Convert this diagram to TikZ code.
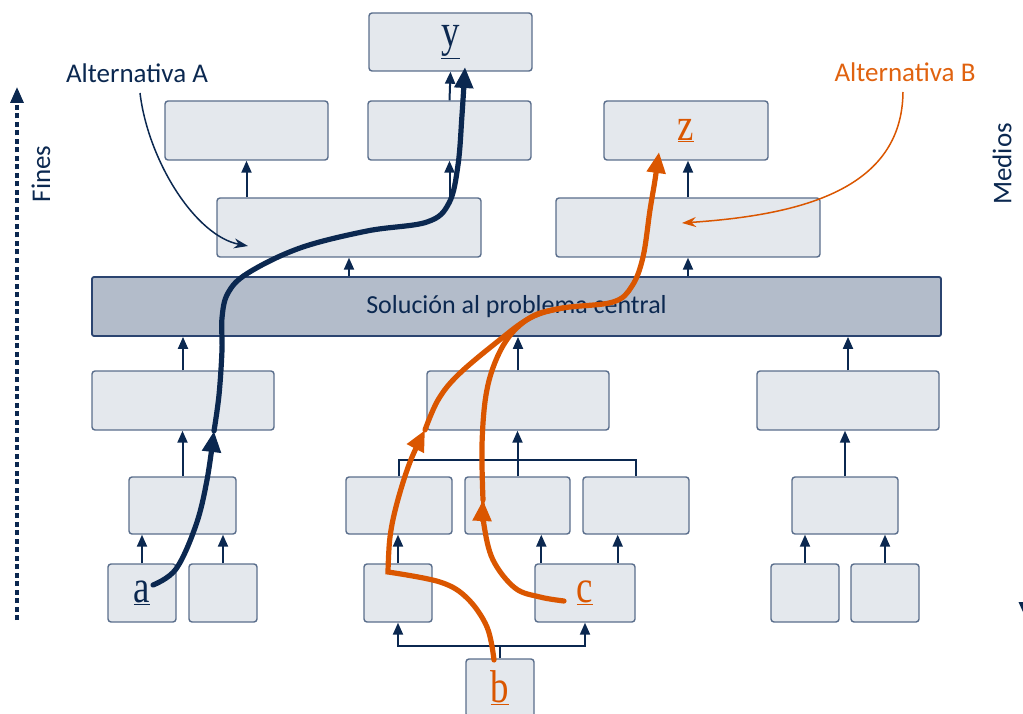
\documentclass[tikz,border=0pt]{standalone}
\usepackage{fontspec}
\setsansfont{Carlito}
\newfontfamily\lettfont{Liberation Serif}
\usetikzlibrary{arrows.meta,calc}
\definecolor{navy}{HTML}{0B2850}
\definecolor{boxfill}{HTML}{E4E8ED}
\definecolor{boxline}{HTML}{5A6E8C}
\definecolor{barfill}{HTML}{B3BCCA}
\definecolor{barline}{HTML}{2B4470}
\definecolor{orng}{HTML}{DA5600}
\definecolor{orngtxt}{HTML}{E0620F}
\newcommand\mkbox[6]{\node[box, minimum width={(#4-#2)*1pt}, minimum height={(#5-#3)*1pt}] (#1) at ({(#2+#4)/2},{(#3+#5)/2}) {#6};}
\newcommand\letr[2]{{\color{#1}\lettfont\fontsize{46}{46}\selectfont\underline{\scalebox{0.8}[1]{#2}}}}
\begin{document}
\begin{tikzpicture}[x=1pt,y=-1pt,
  box/.style={draw=boxline, fill=boxfill, line width=1.4pt, rounded corners=3pt, inner sep=0pt},
  bar/.style={draw=barline, fill=barfill, line width=1.8pt, rounded corners=2pt, inner sep=0pt},
  link/.style={draw=navy, line width=2pt, -{Triangle[length=12pt,width=10pt]}},
  plainlink/.style={draw=navy, line width=2pt},
  thickA/.style={draw=navy, line width=5.2pt, line cap=round, -{Triangle[length=21pt,width=18pt]}},
  thickB/.style={draw=orng, line width=5.2pt, line cap=round, line join=miter, -{Triangle[length=21pt,width=18pt]}},
  thickBplain/.style={draw=orng, line width=5.2pt, line cap=round},
  callA/.style={draw=navy, line width=1.5pt, -{Stealth[length=14pt,width=10pt]}},
  callB/.style={draw=orng, line width=1.5pt, -{Stealth[length=14pt,width=10pt]}},
  axis/.style={draw=navy, line width=3.2pt, dash pattern=on 5pt off 3.5pt, -{Triangle[length=16pt,width=13pt]}},
  lbl/.style={font=\sffamily\fontsize{27}{27}\selectfont, inner sep=0pt}
]
\useasboundingbox (0,0) rectangle (1023,714);
% boxes
\mkbox{ytop}{369}{13}{532}{71}{\letr{navy}{y}}
\mkbox{r2a}{165}{101}{328}{160}{}
\mkbox{r2b}{368}{101}{531}{160}{}
\mkbox{ztop}{604}{101}{768}{160}{\letr{orng}{z}}
\mkbox{r3a}{217}{198}{481}{257}{}
\mkbox{r3b}{556}{198}{820}{257}{}
\node[bar, minimum width=849pt, minimum height=59pt, text=navy, font=\sffamily\fontsize{26}{26}\selectfont] (cen) at (516.5,306.5) {Solución al problema central};
\mkbox{r4a}{92}{371}{274}{430}{}
\mkbox{r4b}{427}{371}{609}{430}{}
\mkbox{r4c}{757}{371}{939}{430}{}
\mkbox{r5a}{129}{477}{236}{534}{}
\mkbox{r5b}{346}{477}{452}{534}{}
\mkbox{r5c}{465}{477}{570}{534}{}
\mkbox{r5d}{583}{477}{689}{534}{}
\mkbox{r5e}{792}{477}{898}{534}{}
\mkbox{abox}{108}{564}{176}{622}{\letr{navy}{a}}
\mkbox{r6b}{189}{564}{257}{622}{}
\mkbox{r6c}{364}{564}{432}{622}{}
\mkbox{cbox}{535}{564}{635}{622}{\letr{orng}{c}}
\mkbox{r6e}{771}{564}{839}{622}{}
\mkbox{r6f}{851}{564}{919}{622}{}
\mkbox{bbox}{466}{659}{534}{717}{\letr{orng}{b}}
% thin links
\draw[link] (r2b.north) -- (ytop.south);
\draw[link] (r3a.north -| r2a.south) -- (r2a.south);
\draw[link] (r3a.north -| r2b.south) -- (r2b.south);
\draw[link] (r3b.north) -- (r3b.north |- ztop.south);
\draw[link] (cen.north -| r3a.south) -- (r3a.south);
\draw[link] (cen.north -| r3b.south) -- (r3b.south);
\draw[link] (r4a.north) -- (r4a.north |- cen.south);
\draw[link] (r4b.north) -- (r4b.north |- cen.south);
\draw[link] (r4c.north) -- (r4c.north |- cen.south);
\draw[link] (r5a.north) -- (r5a.north |- r4a.south);
\draw[link] (r5c.north) -- (r5c.north |- r4b.south);
\draw[link] (r5e.north) -- (r5e.north |- r4c.south);
\coordinate (brk) at (r5c.north |- 0,460);
\draw[plainlink] (r5b.north) |- (brk) -| (r5d.north);
\draw[link] (abox.north) -- (abox.north |- r5a.south);
\draw[link] (r6b.north) -- (r6b.north |- r5a.south);
\draw[link] (r6c.north) -- (r6c.north |- r5b.south);
\draw[link] ([xshift=7pt]cbox.north west) -- ([xshift=7pt]cbox.north west |- r5c.south);
\draw[link] ([xshift=-18pt]cbox.north east) -- ([xshift=-18pt]cbox.north east |- r5d.south);
\draw[link] (r6e.north) -- (r6e.north |- r5e.south);
\draw[link] (r6f.north) -- (r6f.north |- r5e.south);
\coordinate (bj) at ([yshift=12pt]bbox.north);
\draw[plainlink] (bbox.north) -- (bj);
\draw[link] (bj) -| (r6c.south);
\draw[link] (bj) -| (cbox.south);
% labels
\node[lbl, text=navy] (altA) at (137,73) {Alternativa A};
\node[lbl, text=orngtxt] (altB) at (905,72) {Alternativa B};
\node[lbl, text=navy, rotate=90] (fines) at (41,174) {Fines};
\node[lbl, text=navy, rotate=90] (medios) at (1002,164) {Medios};
% axes
\coordinate (fb) at (17,620); \coordinate (ft) at (17,87);
\draw[axis] (fb) -- (ft);
\coordinate (mt) at (1025.5,87); \coordinate (mb) at (1025.5,618);
\draw[axis] (mt) -- (mb);
% callouts
\coordinate (altAs) at (140,93); \coordinate (altAe) at (248,246);
\draw[callA] (altAs) .. controls (148,160) and (195,236) .. (altAe);
\coordinate (altBs) at (903,92); \coordinate (altBe) at (682,223);
\draw[callB] (altBs) .. controls (902,190) and (800,215) .. (altBe);
% alternative A
\coordinate (aS) at ([xshift=11pt,yshift=8pt]abox.center);
\coordinate (aM) at (214,431);
\coordinate (yE) at (465,67);
\draw[thickA] plot[smooth,tension=0.6] coordinates {(aS) (176,569) (196,525) (207,480) (aM)};
\draw[thickA] plot[smooth,tension=0.6] coordinates {(aM) (219,395) (222,350) (222,318) (228,293) (248,273) (300,248) (367,231) (427,222) (449,203) (458,165) (462,115) (yE)};
% alternative B
\coordinate (bS) at ([xshift=-6pt,yshift=28pt]bbox.center);
\coordinate (bK) at (388,572);
\coordinate (bM) at (425,430);
\coordinate (cS) at ([xshift=-21pt,yshift=-8pt]cbox.center);
\coordinate (cM) at (483,500);
\coordinate (mg) at (563,308);
\coordinate (zE) at (659,152);
\draw[thickB] plot[smooth,tension=0.6] coordinates {(bS) (487,627) (467,598) (440,582) (bK)} -- plot[smooth,tension=0.6] coordinates {(bK) (390,537) (397,503) (410,462) (bM)};
\draw[thickB] plot[smooth,tension=0.6] coordinates {(bM) (438,400) (458,375) (497,342) (530,318) (mg) (613,302) (632,286) (643,257) (650,210) (655,180) (zE)};
\draw[thickB] plot[smooth,tension=0.6] coordinates {(cS) (540,597) (515,588) (493,560) (484,525) (cM)};
\draw[thickBplain] plot[smooth,tension=0.6] coordinates {(cM) (482,445) (486,395) (496,360) (512,333) (535,315) (mg)};
\end{tikzpicture}
\end{document}
